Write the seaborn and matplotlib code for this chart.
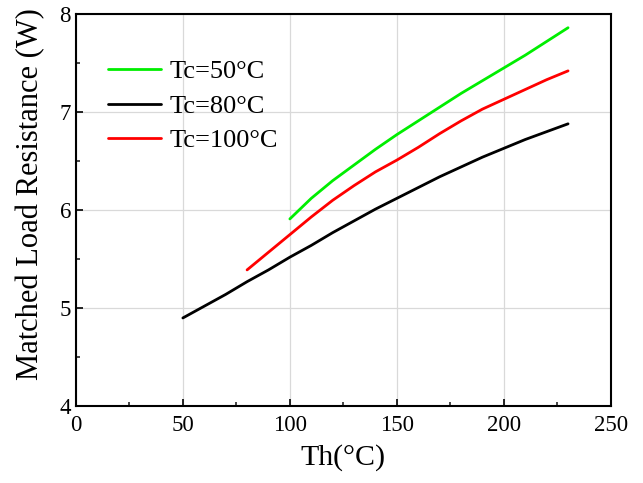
import numpy as np
import pandas as pd
import seaborn as sns
import matplotlib.pyplot as plt
from matplotlib.ticker import MultipleLocator

th_50 = [100, 110, 120, 130, 140, 150, 160, 170, 180, 190, 200, 210, 220, 230]
r_50 = [5.91, 6.12, 6.30, 6.46, 6.62, 6.77, 6.91, 7.05, 7.19, 7.32, 7.45, 7.58, 7.72, 7.86]

th_80 = [50, 60, 70, 80, 90, 100, 110, 120, 130, 140, 150, 160, 170, 180, 190, 200, 210, 220, 230]
r_80 = [4.90, 5.02, 5.14, 5.27, 5.39, 5.52, 5.64, 5.77, 5.89, 6.01, 6.12, 6.23, 6.34, 6.44,
        6.54, 6.63, 6.72, 6.80, 6.88]

th_100 = [80, 90, 100, 110, 120, 130, 140, 150, 160, 170, 180, 190, 200, 210, 220, 230]
r_100 = [5.39, 5.57, 5.75, 5.93, 6.10, 6.25, 6.39, 6.51, 6.64, 6.78, 6.91, 7.03, 7.13,
         7.23, 7.33, 7.42]

labels = ['Tc=50°C', 'Tc=80°C', 'Tc=100°C']
colors = ['#00ee00', '#000000', '#ff0000']

df = pd.concat([
    pd.DataFrame({'Th': th_50, 'R': r_50, 'Tc': labels[0]}),
    pd.DataFrame({'Th': th_80, 'R': r_80, 'Tc': labels[1]}),
    pd.DataFrame({'Th': th_100, 'R': r_100, 'Tc': labels[2]}),
])

sns.set_style('white')
plt.rcParams['font.family'] = ['Liberation Serif', 'DejaVu Serif']
plt.rcParams['text.color'] = 'black'
plt.rcParams['axes.labelcolor'] = 'black'

fig = plt.figure(figsize=(6.43, 4.83), dpi=100)
ax = fig.add_axes([0.118, 0.159, 0.832, 0.812])

sns.lineplot(data=df, x='Th', y='R', hue='Tc', palette=dict(zip(labels, colors)),
             linewidth=2.0, ax=ax, sort=False)

ax.set_xlim(0, 250)
ax.set_ylim(4, 8)
ax.xaxis.set_major_locator(MultipleLocator(50))
ax.xaxis.set_minor_locator(MultipleLocator(25))
ax.yaxis.set_major_locator(MultipleLocator(1))
ax.yaxis.set_minor_locator(MultipleLocator(0.5))
ax.grid(True, which='major', color='#d9d9d9', linewidth=0.9)
ax.set_axisbelow(True)

for s in ax.spines.values():
    s.set_visible(True)
    s.set_color('black')
    s.set_linewidth(1.5)

ax.tick_params(axis='both', which='major', direction='in', length=5, width=1.2,
               labelsize=16.5, colors='black', bottom=True, left=True)
ax.tick_params(axis='both', which='minor', direction='in', length=3, width=1.2,
               bottom=True, left=True)
ax.tick_params(axis='x', pad=6)

ax.set_xlabel('Th(°C)', fontsize=21.5, labelpad=6)
ax.set_ylabel('Matched Load Resistance (W)', fontsize=22)
ax.yaxis.set_label_coords(-0.057, 0.54)

ax.legend(title=None, frameon=False, fontsize=19, loc='upper left',
          bbox_to_anchor=(0.04, 0.91), handlelength=2.0, handletextpad=0.35,
          labelspacing=0.42, borderaxespad=0)

fig.savefig('out.png', dpi=100)
